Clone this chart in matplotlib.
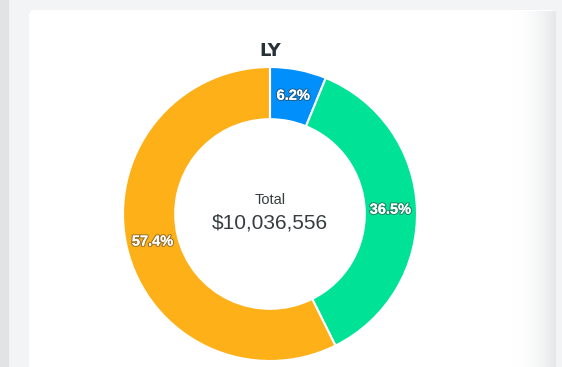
import matplotlib.pyplot as plt
import matplotlib.patheffects as pe
from matplotlib.patches import FancyBboxPatch, Rectangle
import numpy as np

# chart data
title = "LY"
labels = ["A", "B", "C"]
shares = [6.2, 36.5, 57.4]
colors = ["#008FFB", "#00E396", "#FEB019"]
total_text = "$10,036,556"

plt.rcParams['font.family'] = ['Liberation Sans', 'DejaVu Sans']

W, H = 562, 367
fig = plt.figure(figsize=(W / 100, H / 100), dpi=100)
fig.patch.set_facecolor("#f3f4f6")
ax = fig.add_axes([0, 0, 1, 1])
ax.set_xlim(0, W)
ax.set_ylim(0, H)
ax.axis("off")

# page chrome: left strip + card with shadow on the right
ax.add_patch(Rectangle((0, 0), 8, H, color="#e2e3e5", zorder=0))
ax.add_patch(FancyBboxPatch((29, -20), 527, H - 10 + 20,
                            boxstyle="round,pad=0,rounding_size=6",
                            facecolor="white", edgecolor="none", zorder=1))
grad = np.linspace(0, 1, 64) ** 2
img = np.ones((2, 64, 3))
for i, c in enumerate((0.90, 0.905, 0.915)):
    img[:, :, i] = 1 - grad * (1 - c)
ax.imshow(img, extent=(512, 556, -20, H - 11), aspect="auto", zorder=2)

pct_labels = iter(f"{s:.1f}%" for s in shares)
cx, cy, r = 270, H - 214, 147
wedges, _, autotexts = ax.pie(
    shares, colors=colors, startangle=90, counterclock=False,
    center=(cx, cy), radius=r, autopct=lambda p: next(pct_labels),
    pctdistance=0.82,
    wedgeprops=dict(width=r * 0.355, edgecolor="white", linewidth=1.5),
    textprops=dict(color="white", fontsize=10.5, fontweight="bold"),
    frame=True)
for w in wedges:
    w.set_zorder(3)
for t in autotexts:
    t.set_zorder(4)
    t.set_path_effects([pe.withStroke(linewidth=1.8, foreground="#3a3a3a", alpha=0.5),
                        pe.Normal()])
ax.set_xlim(0, W)
ax.set_ylim(0, H)
ax.set_aspect("equal")
ax.axis("off")

ax.text(cx, H - 51, title, ha="center", va="center", fontsize=13,
        fontweight="bold", color="#263238", family=["DejaVu Sans"], zorder=5)
ax.text(cx, H - 200, "Total", ha="center", va="center", fontsize=10.5,
        color="#373d3f", zorder=5)
ax.text(cx, H - 223, total_text, ha="center", va="center", fontsize=15,
        color="#373d3f", zorder=5)

fig.savefig("out.png", dpi=100, facecolor=fig.get_facecolor())
